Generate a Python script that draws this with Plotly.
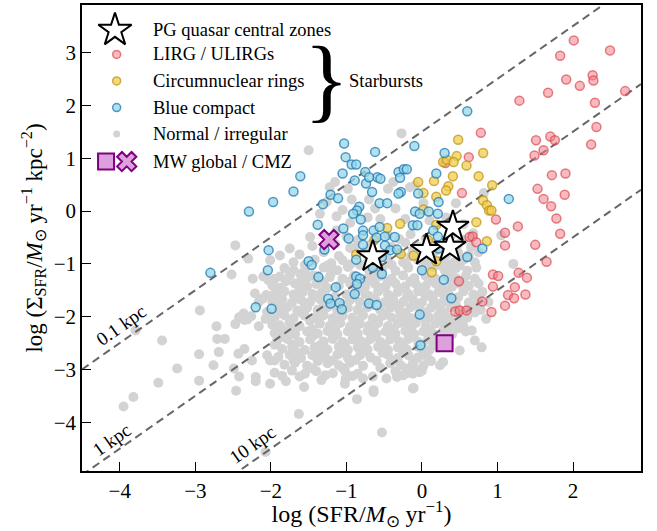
import math
import plotly.graph_objects as go

# ---------------- data ----------------
lirg_x = [2.01, 2.49, 1.83, 1.91, 2.26, 2.27, 2.09, 2.69, 1.67, 1.29, 2.29, 2.31, 0.78, 1.70, 1.76, 1.51,
          2.24, 1.61, 1.49, 0.62, 1.72, 1.90, 1.53, 1.89, 1.61, 1.71, 1.78, 0.98, 1.27, 1.10, 1.83, 0.53,
          0.63, 0.67, 0.72, 1.10, 1.50, 1.65, 0.94, 1.01, 1.28, 1.39, 0.49, 0.94, 1.23, 1.14, 1.22, 1.37,
          0.80, 1.10, 0.44, 0.50, 0.59, 0.92, 0.31]
lirg_y = [3.23, 3.04, 2.94, 2.49, 2.57, 2.47, 2.37, 2.27, 2.24, 2.09, 2.05, 1.59, 1.48, 1.41, 1.34, 1.34,
          1.26, 1.15, 1.05, 1.02, 0.68, 0.71, 0.42, 0.31, 0.23, 0.09, -0.14, -0.16, -0.29, -0.41, -0.43, 0.34,
          -0.49, -0.48, -0.59, -0.65, -0.64, -0.96, -1.20, -1.23, -1.17, -1.26, -1.33, -1.43, -1.44, -1.59, -1.65, -1.58,
          -1.71, -1.79, -1.90, -1.88, -1.88, -1.91, 0.91]

ring_x = [0.48, 0.81, 0.46, 0.28, 0.33, 0.42, 0.59, 0.75, 0.41, 0.16, -0.05, 0.35, 0.32, 0.93, 0.02, 0.19,
          0.81, 0.86, 0.89, 0.92, 0.02, 0.72, 0.19, -0.29, -0.46, -0.63, 0.86, 0.08, -0.87, -0.28, -0.11, 0.19, 0.13]
ring_y = [1.35, 1.10, 1.04, 0.93, 0.97, 0.93, 0.86, 0.66, 0.66, 0.57, 0.55, 0.47, 0.39, 0.49, 0.34, 0.27,
          0.20, 0.11, 0.01, 0.01, 0.03, -0.21, -0.26, -0.24, -0.32, -0.55, -0.57, -0.55, -0.82, -0.81, -0.84, -0.95, -1.16]

blue_x = [-1.03, -0.62, -1.01, -0.93, -0.87, -1.61, -1.05, -0.75, -0.89, -0.74, -0.59, -0.70, -0.55, -1.70, -0.66,
          -1.21, -1.97, -2.29, -1.31, -1.11, -0.83, -0.86, -0.91, -0.81, -1.38, -1.04, -0.78, -0.64, -0.97, -0.78,
          -2.03, -1.29, -0.78, -0.87, -1.50, -1.46, -2.04, -2.80, -1.37, -0.87, -0.82, -0.86, -1.14, -0.89, -1.24,
          -1.21, -1.09, -1.99, -1.06, -0.70, -0.60, -2.20,
          -0.31, -0.24, -0.20, -0.29, 0.19, 0.30, -0.10, -0.28, -0.31, -0.05, 0.22, -0.56, -0.46, -0.09, -0.03,
          0.09, 0.21, 1.15, -0.56, -0.12, -0.06, 0.15, 0.21, -0.60, -0.49, -0.36, -0.49, -0.42, -0.53, -0.33,
          0.22, 0.60, 0.80, -0.65, -0.53, 0.00, 0.29, 0.39, -0.03, -0.02, 0.60]
blue_y = [1.28, 1.12, 1.02, 0.88, 0.88, 0.66, 0.71, 0.74, 0.58, 0.52, 0.64, 0.64, 0.61, 0.37, 0.36,
          0.31, 0.17, -0.01, 0.13, 0.24, 0.08, 0.01, -0.05, -0.16, -0.26, -0.33, -0.37, -0.37, -0.52, -0.46,
          -0.74, -0.73, -0.64, -0.92, -0.95, -1.02, -1.12, -1.17, -1.25, -1.24, -1.28, -1.38, -1.44, -1.57, -1.66,
          -1.75, -1.74, -1.85, -1.86, -1.75, -1.78, -1.82,
          0.74, 0.79, 0.79, 0.63, 0.71, 1.10, 1.23, 0.36, 0.33, 0.33, 0.17, 0.15, 0.15, -0.01, -0.05,
          -0.01, -0.05, 0.23, -0.30, -0.27, -0.27, -0.37, -0.48, -0.50, -0.48, -0.49, -0.65, -0.74, -0.87, -0.73,
          -0.71, -0.87, -0.71, -1.07, -1.19, -1.12, -1.30, -1.65, -1.96, -2.54, 1.89]

normal_pts = [
    # sparse outskirts
    (-2.94, -1.88), (-3.44, -2.45), (-3.79, -2.26), (-3.24, -2.98), (-3.49, -3.25), (-3.82, -3.52), (-3.95, -3.70),
    (-2.95, -2.71), (-2.95, -3.21), (-2.72, -2.18), (-2.71, -2.42), (-2.61, -2.42), (-2.69, -2.67), (-2.76, -2.92),
    (-2.49, -2.98), (-2.46, -3.40), (-2.42, -3.13), (-2.43, -2.70), (-2.35, -2.61), (-2.25, -2.83), (-2.20, -3.14),
    (-2.20, -3.22), (-2.07, -4.56), (-2.05, -2.73), (-2.01, -2.83), (-2.01, -3.27), (-2.47, -2.14), (-2.35, -2.06),
    (-2.31, -2.05), (-2.26, -1.99), (-2.16, -2.18), (-1.98, -2.15), (-2.21, -1.56), (-2.11, -1.66), (-2.06, -1.59),
    (-2.16, -1.72), (-2.36, -1.94), (-2.42, -2.01), (-2.07, -2.04), (-2.05, -1.91), (-2.03, -1.31),
    (-2.47, -0.65), (-2.52, -1.20), (-2.30, -0.90), (-2.24, -1.28), (-1.75, -0.71), (-1.88, -0.84), (-2.01, -0.93),
    (-1.48, -0.49), (-1.35, -0.05), (-1.26, 0.17), (-1.22, 0.45), (-1.13, -0.10), (-1.13, -0.37), (-1.70, -1.12),
    (-1.61, -1.19), (-1.88, -1.24), (-1.44, -1.22), (-1.22, -1.25), (-1.50, 1.15), (-0.27, 1.47),
    (-1.15, 0.55), (-0.98, 0.42), (-0.93, 0.22), (-1.05, 0.02), (-0.70, 0.22), (-0.62, 0.05), (-0.45, 0.42),
    (-0.38, 0.55), (-0.16, 0.45), (-0.09, 0.49), (-0.35, 0.05), (-0.22, -0.15), (0.02, 0.15), (-0.55, -0.15),
    (-0.72, -0.12), (0.82, 0.34), (1.05, -0.46), (1.21, -1.00), (0.10, -0.18), (0.32, -0.12), (0.45, 0.15),
    (0.55, -0.25), (-0.95, -0.22), (-1.25, -0.60), (-0.90, -0.70),
    # main cloud
    (-1.00, -0.48), (-0.85, -0.55), (-0.45, -0.46), (-0.30, -0.53), (-0.15, -0.44), (0.05, -0.52), (0.38, -0.47),
    (0.55, -0.55), (0.68, -0.42),
    (-1.45, -0.66), (-1.15, -0.62), (-0.95, -0.70), (-0.68, -0.63), (-0.40, -0.68), (-0.22, -0.60), (-0.05, -0.67),
    (0.12, -0.62), (0.35, -0.70), (0.48, -0.63), (0.65, -0.68),
    (-1.62, -0.82), (-1.30, -0.78), (-1.10, -0.85), (-0.75, -0.77), (-0.58, -0.84), (-0.30, -0.79), (-0.15, -0.86),
    (0.02, -0.80), (0.18, -0.76), (0.32, -0.84), (0.48, -0.79), (0.62, -0.83), (0.75, -0.78),
    (-1.70, -0.97), (-1.42, -0.92), (-1.20, -0.99), (-1.05, -0.93), (-0.72, -0.98), (-0.45, -0.92), (-0.25, -0.97),
    (-0.05, -0.93), (0.08, -0.99), (0.25, -0.94), (0.42, -0.98), (0.55, -0.92), (0.70, -0.97),
    (-1.82, -1.08), (-1.55, -1.13), (-1.30, -1.07), (-1.12, -1.12), (-0.98, -1.06), (-0.70, -1.12), (-0.52, -1.08),
    (-0.35, -1.13), (-0.18, -1.07), (0.00, -1.11), (0.15, -1.06), (0.30, -1.12), (0.45, -1.08), (0.60, -1.13),
    (0.72, -1.07),
    (-2.10, -1.24), (-1.95, -1.28), (-1.75, -1.22), (-1.52, -1.27), (-1.38, -1.23), (-1.05, -1.28), (-0.90, -1.22),
    (-0.72, -1.27), (-0.55, -1.23), (-0.40, -1.28), (-0.25, -1.22), (-0.10, -1.27), (0.05, -1.23), (0.18, -1.28),
    (0.32, -1.22), (0.45, -1.27), (0.58, -1.23), (0.70, -1.28),
    (-1.98, -1.41), (-1.68, -1.37), (-1.52, -1.43), (-1.40, -1.38), (-1.10, -1.42), (-0.95, -1.37), (-0.75, -1.43),
    (-0.62, -1.38), (-0.48, -1.42), (-0.35, -1.37), (-0.22, -1.43), (-0.08, -1.38), (0.05, -1.42), (0.18, -1.37),
    (0.40, -1.43), (0.50, -1.38), (0.62, -1.42), (0.75, -1.37),
    (-1.95, -1.56), (-1.82, -1.52), (-1.70, -1.58), (-1.58, -1.53), (-1.45, -1.57), (-1.32, -1.52), (-1.00, -1.58),
    (-0.88, -1.53), (-0.75, -1.57), (-0.58, -1.52), (-0.45, -1.58), (-0.32, -1.53), (-0.18, -1.57), (-0.05, -1.52),
    (0.10, -1.58), (0.22, -1.53), (0.35, -1.57), (0.55, -1.52), (0.68, -1.58), (0.80, -1.53),
    (-1.98, -1.71), (-1.85, -1.67), (-1.72, -1.73), (-1.60, -1.68), (-1.48, -1.72), (-1.35, -1.67), (-1.18, -1.73),
    (-0.95, -1.68), (-0.82, -1.72), (-0.62, -1.67), (-0.50, -1.73), (-0.38, -1.68), (-0.25, -1.72), (-0.12, -1.67),
    (0.00, -1.73), (0.15, -1.68), (0.28, -1.72), (0.40, -1.67), (0.62, -1.73), (0.75, -1.68), (0.88, -1.72),
    (-1.90, -1.86), (-1.78, -1.82), (-1.65, -1.88), (-1.52, -1.83), (-1.38, -1.87), (-1.25, -1.82), (-1.12, -1.88),
    (-0.98, -1.83), (-0.85, -1.87), (-0.72, -1.82), (-0.55, -1.88), (-0.42, -1.83), (-0.30, -1.87), (-0.15, -1.82),
    (-0.02, -1.88), (0.12, -1.83), (0.25, -1.87), (0.38, -1.82), (0.50, -1.88), (0.62, -1.83), (0.78, -1.87),
    (-1.95, -2.01), (-1.82, -1.97), (-1.70, -2.03), (-1.55, -1.98), (-1.42, -2.02), (-1.30, -1.97), (-1.18, -2.03),
    (-1.05, -1.98), (-0.92, -2.02), (-0.78, -1.97), (-0.65, -2.03), (-0.52, -1.98), (-0.40, -2.02), (-0.28, -1.97),
    (-0.15, -2.03), (-0.02, -1.98), (0.10, -2.02), (0.22, -1.97), (0.35, -2.03), (0.48, -1.98), (0.60, -2.02),
    (0.85, -2.04),
    (-1.88, -2.16), (-1.75, -2.12), (-1.62, -2.18), (-1.35, -2.13), (-1.22, -2.17), (-1.08, -2.12), (-0.95, -2.18),
    (-0.82, -2.13), (-0.70, -2.17), (-0.58, -2.12), (-0.45, -2.18), (-0.32, -2.13), (-0.20, -2.17), (-0.08, -2.12),
    (0.05, -2.18), (0.18, -2.13), (0.30, -2.17), (0.42, -2.12), (0.55, -2.18),
    (-1.95, -2.31), (-1.80, -2.27), (-1.68, -2.33), (-1.52, -2.28), (-1.38, -2.32), (-1.25, -2.27), (-1.12, -2.33),
    (-0.98, -2.28), (-0.85, -2.32), (-0.72, -2.27), (-0.60, -2.33), (-0.48, -2.28), (-0.35, -2.32), (-0.22, -2.27),
    (-0.10, -2.33), (0.02, -2.28), (0.15, -2.32), (0.28, -2.27), (0.40, -2.33), (0.58, -2.28), (0.66, -2.26),
    (-1.92, -2.46), (-1.78, -2.42), (-1.62, -2.48), (-1.48, -2.43), (-1.30, -2.47), (-1.18, -2.42), (-1.05, -2.48),
    (-0.92, -2.43), (-0.80, -2.47), (-0.68, -2.42), (-0.55, -2.48), (-0.42, -2.43), (-0.30, -2.47), (-0.18, -2.42),
    (-0.05, -2.48), (0.08, -2.43), (0.20, -2.47), (0.32, -2.42), (0.70, -2.45),
    (-1.85, -2.61), (-1.72, -2.57), (-1.55, -2.63), (-1.42, -2.58), (-1.25, -2.62), (-1.10, -2.57), (-0.98, -2.63),
    (-0.85, -2.58), (-0.72, -2.62), (-0.58, -2.57), (-0.45, -2.63), (-0.32, -2.58), (-0.20, -2.62), (-0.05, -2.57),
    (0.10, -2.63), (0.22, -2.58), (0.50, -2.64), (0.79, -2.58),
    (-1.90, -2.76), (-1.75, -2.72), (-1.60, -2.78), (-1.45, -2.73), (-1.28, -2.77), (-1.12, -2.72), (-0.98, -2.78),
    (-0.82, -2.73), (-0.68, -2.77), (-0.45, -2.72), (-0.32, -2.78), (-0.18, -2.73), (-0.05, -2.77), (0.08, -2.79),
    (-1.82, -2.91), (-1.68, -2.87), (-1.52, -2.93), (-1.25, -2.88), (-1.10, -2.92), (-0.95, -2.87), (-0.78, -2.93),
    (-0.42, -2.88), (-0.28, -2.92), (-0.12, -2.87), (0.02, -2.93), (0.24, -2.92), (0.28, -2.86),
    (-1.95, -3.06), (-1.72, -3.02), (-1.55, -3.08), (-1.40, -3.03), (-1.18, -3.07), (-1.02, -3.02), (-0.85, -3.08),
    (-0.35, -3.03), (-0.20, -3.07), (-0.09, -2.99), (-0.03, -3.05), (0.00, -3.02),
    (-1.80, -3.22), (-1.33, -3.20), (-1.01, -3.17), (-0.78, -3.17), (-0.47, -3.17), (-0.33, -3.14), (-0.12, -3.08),
    (-1.02, -3.27),
    (-1.56, -3.33), (-0.64, -3.39), (-0.11, -3.35), (-0.86, -3.56), (-0.64, -3.43), (-0.12, -3.36),
    (-1.63, -3.84), (-0.53, -4.19),
    # extra fill of the dense core
    (-1.88, -1.45), (-1.62, -1.47), (-1.25, -1.46), (-0.85, -1.47), (-0.55, -1.46), (-0.28, -1.47), (0.00, -1.46),
    (0.28, -1.47), (-1.90, -1.78), (-1.55, -1.77), (-1.30, -1.78), (-1.05, -1.77), (-0.68, -1.78), (-0.35, -1.77),
    (-0.08, -1.78), (0.20, -1.77), (0.45, -1.78), (0.70, -1.79), (-1.75, -2.08), (-1.48, -2.08), (-1.12, -2.07),
    (-0.85, -2.08), (-0.58, -2.07), (-0.22, -2.08), (0.05, -2.07), (0.28, -2.08), (0.52, -2.08),
    (-1.85, -2.38), (-1.45, -2.37), (-1.18, -2.38), (-0.90, -2.37), (-0.65, -2.38), (-0.40, -2.37), (-0.15, -2.38),
    (0.10, -2.37), (0.35, -2.38), (-1.65, -2.68), (-1.35, -2.67), (-1.05, -2.68), (-0.78, -2.67), (-0.52, -2.68),
    (-0.25, -2.67), (0.02, -2.68), (-1.45, -2.98), (-1.05, -2.97), (-0.55, -2.97), (-0.20, -2.98),
    (-0.82, -1.02), (-0.40, -1.02), (0.22, -1.02), (-1.20, -1.17), (-0.62, -1.18), (0.38, -1.18), (-0.12, -0.75),
    (-1.92, -1.62), (-1.65, -1.63), (-1.40, -1.61), (-1.15, -1.62), (-0.92, -1.63), (-0.70, -1.61), (-0.42, -1.62),
    (-0.20, -1.63), (0.05, -1.61), (0.30, -1.62), (0.48, -1.63), (0.72, -1.61),
    (-1.85, -1.93), (-1.60, -1.92), (-1.35, -1.94), (-1.05, -1.93), (-0.80, -1.92), (-0.48, -1.94), (-0.22, -1.93),
    (0.05, -1.92), (0.30, -1.94), (0.56, -1.93), (0.70, -1.92),
    (-1.92, -2.23), (-1.68, -2.22), (-1.45, -2.24), (-1.15, -2.23), (-0.88, -2.22), (-0.64, -2.24), (-0.38, -2.23),
    (-0.14, -2.22), (0.10, -2.24), (0.35, -2.23), (0.48, -2.22),
    (-1.95, -2.53), (-1.68, -2.52), (-1.35, -2.54), (-1.02, -2.53), (-0.75, -2.52), (-0.50, -2.54), (-0.25, -2.53),
    (0.00, -2.52), (0.15, -2.54), (0.28, -2.53),
    (-1.95, -2.83), (-1.70, -2.82), (-1.38, -2.84), (-1.18, -2.83), (-0.88, -2.82), (-0.60, -2.84), (-0.38, -2.83),
    (-0.10, -2.82), (0.12, -2.84),
    (-1.85, -3.12), (-1.62, -3.13), (-1.28, -3.11), (-0.92, -3.12), (-0.65, -3.13), (-0.25, -3.11),
    (-1.80, -1.33), (-1.60, -1.32), (-1.30, -1.34), (-0.95, -1.33), (-0.65, -1.32), (-0.45, -1.34), (-0.15, -1.33),
    (0.10, -1.32), (0.38, -1.34), (0.55, -1.33),
    (-1.55, -1.02), (-1.25, -1.03), (-0.95, -1.01), (-0.60, -1.02), (-0.20, -1.03), (0.05, -1.01), (0.35, -1.02),
    (0.50, -1.03),
]
normal_x = [p[0] for p in normal_pts]
normal_y = [p[1] for p in normal_pts]

pg_x = [-0.65, 0.06, 0.37, 0.41]
pg_y = [-0.86, -0.74, -0.68, -0.30]

mw_global_x, mw_global_y = [0.30], [-2.50]
mw_cmz_x, mw_cmz_y = [-1.23], [-0.54]

radii_kpc = [0.1, 1, 10]
radii_labels = ["0.1 kpc", "1 kpc", "10 kpc"]
label_pos = [(-3.99, -2.16), (-4.10, -4.33), (-2.24, -4.42)]

legend_labels = ["PG quasar central zones", "LIRG / ULIRGs", "Circumnuclear rings",
                 "Blue compact", "Normal / irregular", "MW global / CMZ"]

XR = [-4.5, 2.9]
YR = [-4.92, 3.9]

FONT = "Liberation Serif, Times New Roman, serif"

red_fill, red_edge = "rgba(240,130,138,0.55)", "rgba(214,50,60,0.6)"
yel_fill, yel_edge = "rgba(240,205,80,0.75)", "rgba(190,150,20,0.75)"
blu_fill, blu_edge = "rgba(150,215,230,0.75)", "rgba(31,119,180,0.75)"
gray_c = "#d3d3d3"
mw_fill, mw_edge = "#dda0dd", "#800080"

fig = go.Figure()

fig.add_trace(go.Scatter(x=normal_x, y=normal_y, mode="markers",
                         marker=dict(size=10, color=gray_c, line=dict(width=0)), showlegend=False))

for r in radii_kpc:
    c = -math.log10(math.pi * r * r)
    fig.add_trace(go.Scatter(x=XR, y=[XR[0] + c, XR[1] + c], mode="lines",
                             line=dict(color="#666666", width=2, dash="8px,5px"), showlegend=False))

def circ(x, y, fill, edge):
    return go.Scatter(x=x, y=y, mode="markers",
                      marker=dict(size=9, color=fill, line=dict(color=edge, width=1.5)), showlegend=False)

fig.add_trace(circ(lirg_x, lirg_y, red_fill, red_edge))
fig.add_trace(circ(ring_x, ring_y, yel_fill, yel_edge))
fig.add_trace(circ(blue_x, blue_y, blu_fill, blu_edge))

fig.add_trace(go.Scatter(x=pg_x, y=pg_y, mode="markers",
                         marker=dict(symbol="star", size=24, color="white", line=dict(color="black", width=2)),
                         showlegend=False))
fig.add_trace(go.Scatter(x=mw_global_x, y=mw_global_y, mode="markers",
                         marker=dict(symbol="square", size=16, color=mw_fill, line=dict(color=mw_edge, width=2)),
                         showlegend=False))
fig.add_trace(go.Scatter(x=mw_cmz_x, y=mw_cmz_y, mode="markers",
                         marker=dict(symbol="x", size=17, color=mw_fill, line=dict(color=mw_edge, width=2)),
                         showlegend=False))

# ---- custom legend on an overlay axis in plot-fraction units ----
leg_y = [0.946, 0.894, 0.837, 0.780, 0.723, 0.664]
mk_x = 0.062
fig.add_trace(go.Scatter(x=[0.059], y=[leg_y[0]], xaxis="x2", yaxis="y2", mode="markers",
                         marker=dict(symbol="star", size=25, color="white", line=dict(color="black", width=2)),
                         showlegend=False, hoverinfo="skip"))
for yy, fc, ec in [(leg_y[1], red_fill, red_edge), (leg_y[2], yel_fill, yel_edge), (leg_y[3], blu_fill, blu_edge)]:
    fig.add_trace(go.Scatter(x=[mk_x], y=[yy], xaxis="x2", yaxis="y2", mode="markers",
                             marker=dict(size=8, color=fc, line=dict(color=ec, width=1.5)),
                             showlegend=False, hoverinfo="skip"))
fig.add_trace(go.Scatter(x=[mk_x], y=[leg_y[4]], xaxis="x2", yaxis="y2", mode="markers",
                         marker=dict(size=7, color=gray_c), showlegend=False, hoverinfo="skip"))
fig.add_trace(go.Scatter(x=[0.043], y=[leg_y[5]], xaxis="x2", yaxis="y2", mode="markers",
                         marker=dict(symbol="square", size=16, color=mw_fill, line=dict(color=mw_edge, width=2)),
                         showlegend=False, hoverinfo="skip"))
fig.add_trace(go.Scatter(x=[0.080], y=[leg_y[5]], xaxis="x2", yaxis="y2", mode="markers",
                         marker=dict(symbol="x", size=17, color=mw_fill, line=dict(color=mw_edge, width=2)),
                         showlegend=False, hoverinfo="skip"))

annotations = []
for lab, yy in zip(legend_labels, leg_y):
    annotations.append(dict(text=lab, x=0.123, y=yy, xref="paper", yref="paper", xanchor="left",
                            yanchor="middle", showarrow=False, font=dict(family=FONT, size=18.5, color="black")))
annotations.append(dict(text="}", x=0.437, y=0.842, xref="paper", yref="paper", xanchor="center",
                        yanchor="middle", showarrow=False, font=dict(family=FONT, size=94, color="black")))
annotations.append(dict(text="Starbursts", x=0.474, y=0.837, xref="paper", yref="paper", xanchor="left",
                        yanchor="middle", showarrow=False, font=dict(family=FONT, size=18.5, color="black")))
for lab, (lx, ly) in zip(radii_labels, label_pos):
    annotations.append(dict(text=lab, x=lx, y=ly, xref="x", yref="y", showarrow=False, textangle=-35,
                            font=dict(family=FONT, size=19, color="black")))

axis_common = dict(showline=True, linecolor="black", linewidth=1.5, mirror=True, showgrid=False,
                   zeroline=False, ticks="inside", ticklen=9, tickwidth=1.3, tickcolor="black",
                   automargin=False, tickfont=dict(family=FONT, size=21, color="black"))

fig.update_layout(
    width=657, height=531,
    margin=dict(l=82, r=16, t=5, b=60),
    paper_bgcolor="white", plot_bgcolor="white",
    font=dict(family=FONT, color="black"),
    xaxis=dict(range=XR, tickvals=[-4, -3, -2, -1, 0, 1, 2],
               title=dict(text="log (SFR/<i>M</i><sub>⊙</sub> yr<sup>−1</sup>)",
                          font=dict(family=FONT, size=24), standoff=5), **axis_common),
    yaxis=dict(range=YR, tickvals=[-4, -3, -2, -1, 0, 1, 2, 3],
               title=dict(text="log (Σ<sub>SFR</sub>/<i>M</i><sub>⊙</sub> yr<sup>−1</sup> kpc<sup>−2</sup>)",
                          font=dict(family=FONT, size=23), standoff=5), **axis_common),
    xaxis2=dict(range=[0, 1], overlaying="x", visible=False, fixedrange=True),
    yaxis2=dict(range=[0, 1], overlaying="y", visible=False, fixedrange=True),
    annotations=annotations,
    showlegend=False,
)

fig.write_html("out.html", config={"displayModeBar": False},
               post_script="document.body.style.margin='0';document.body.style.overflow='hidden';")
